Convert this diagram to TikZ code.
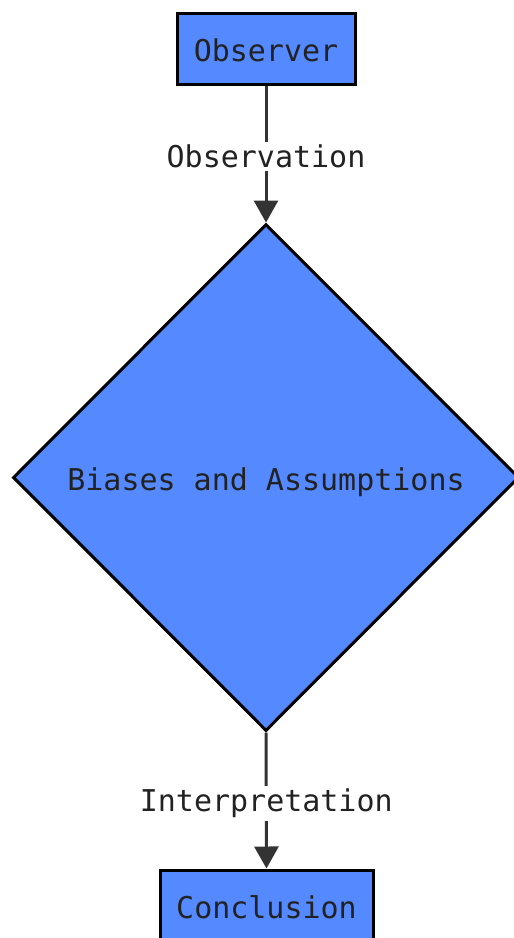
\documentclass[tikz,border=0pt]{standalone}
\usepackage{fontspec}
\setmonofont{DejaVu Sans Mono}
\usetikzlibrary{shapes.geometric,arrows.meta}
\definecolor{boxblue}{RGB}{85,137,255}
\definecolor{txt}{RGB}{34,34,34}
\definecolor{edgec}{RGB}{51,51,51}
\newcommand{\lowerby}[2]{\raisebox{-#1}[\height][\depth]{#2}}
\begin{document}
\begin{tikzpicture}[x=1pt,y=-1pt,
  every node/.style={font=\ttfamily\fontsize{30}{36}\selectfont, text=txt},
  box/.style={draw=black, line width=3pt, fill=boxblue, inner sep=0pt},
  dia/.style={diamond, draw=black, line width=3pt, fill=boxblue, inner sep=0pt, minimum width=506pt, minimum height=507pt},
  conn/.style={draw=edgec, line width=3pt, -{Triangle[width=24pt,length=22pt]}},
  lbl/.style={fill=white, inner sep=3pt}]
\useasboundingbox (0,0) rectangle (514,938);
\node[box, minimum width=178pt, minimum height=71pt] (obs) at (266,48.5) {\lowerby{2pt}{Observer}};
\node[dia] (bias) at (266,477.5) {\lowerby{5pt}{Biases and Assumptions}};
\node[box, minimum width=213pt, minimum height=71pt] (con) at (266.5,905.5) {\lowerby{2pt}{Conclusion}};
\draw[conn] (obs.south) -- node[lbl, pos=0.52] (l1) {Observation} (bias.north);
\draw[conn] (bias.south) -- node[lbl, pos=0.52] (l2) {Interpretation} (con.north);
\end{tikzpicture}
\end{document}
